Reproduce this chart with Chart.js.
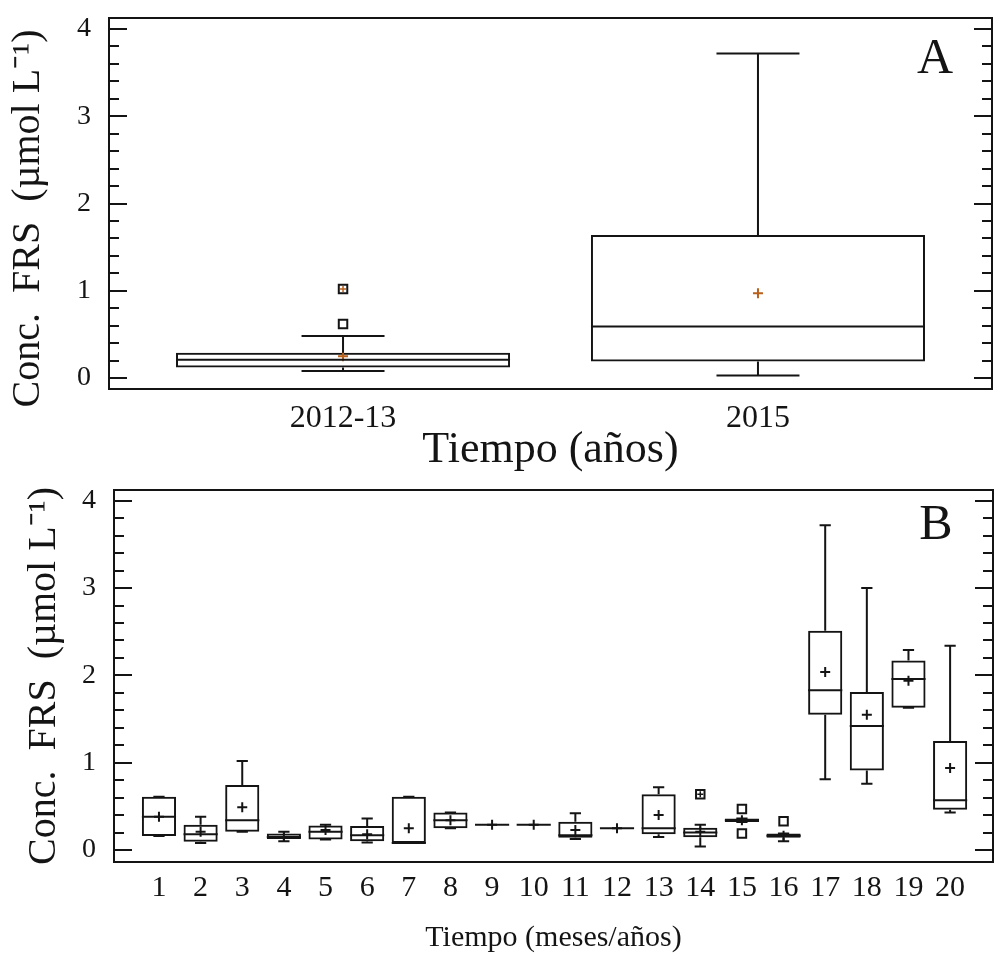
<!DOCTYPE html>
<html>
<head>
<meta charset="utf-8">
<script src="https://cdn.jsdelivr.net/npm/chart.js@4.4.1/dist/chart.umd.min.js"></script>
<style>
  html, body { margin: 0; padding: 0; background: #fff; }
  #wrap { position: relative; width: 994px; height: 956px; }
  .panel { position: absolute; left: 0; width: 994px; }
</style>
</head>
<body>
<div id="wrap">
  <div class="panel" style="top:0;height:472px"><canvas id="chartA" width="994" height="472"></canvas></div>
  <div class="panel" style="top:472px;height:484px"><canvas id="chartB" width="994" height="484"></canvas></div>
</div>
<script>
// --- panel A: por año ---
const yearLabels = ['2012-13', '2015'];
const yearLow    = [0.08, 0.03];
const yearQ1     = [0.12, 0.19];
const yearMedian = [0.21, 0.59];
const yearQ3     = [0.29, 1.64];
const yearHigh   = [0.48, 3.72];
const yearMean   = [0.25, 0.97];
const yearOutliers    = [[0.62], []];   // atípicos
const yearFarOutliers = [[1.02], []];   // atípicos lejanos

// --- panel B: por mes/año ---
const monthLabels = ['1','2','3','4','5','6','7','8','9','10','11','12','13','14','15','16','17','18','19','20'];
const monthLow    = [0.16, 0.08, 0.21, 0.10, 0.12, 0.085, 0.08, 0.25, 0.29, 0.29, 0.125, 0.25, 0.15, 0.04, 0.32, 0.10, 0.81, 0.76, 1.63, 0.43];
const monthQ1     = [0.16, 0.095, 0.21, 0.125, 0.12, 0.10, 0.08, 0.25, 0.29, 0.29, 0.14, 0.25, 0.18, 0.145, 0.32, 0.14, 1.55, 0.91, 1.63, 0.46];
const monthMedian = [0.38, 0.18, 0.34, 0.15, 0.21, 0.17, 0.08, 0.34, 0.29, 0.29, 0.17, 0.25, 0.25, 0.20, 0.34, 0.165, 1.83, 1.42, 1.96, 0.57];
const monthQ3     = [0.61, 0.29, 0.745, 0.19, 0.28, 0.275, 0.61, 0.43, 0.29, 0.29, 0.325, 0.25, 0.64, 0.255, 0.36, 0.19, 2.51, 1.81, 2.17, 1.25];
const monthHigh   = [0.61, 0.38, 1.02, 0.21, 0.29, 0.36, 0.61, 0.43, 0.29, 0.29, 0.42, 0.25, 0.72, 0.29, 0.36, 0.19, 3.72, 3.00, 2.29, 2.34];
const monthMean   = [0.38, 0.21, 0.49, 0.15, 0.23, 0.18, 0.25, 0.34, 0.29, 0.29, 0.23, 0.25, 0.40, 0.21, 0.34, 0.165, 2.04, 1.55, 1.94, 0.94];
const monthOutliers    = [[], [], [], [], [], [], [], [], [], [], [], [], [], [], [0.47, 0.19], [0.33], [], [], [], []];
const monthFarOutliers = [[], [], [], [], [], [], [], [], [], [], [], [], [], [0.64], [], [], [], [], [], []];

const yTicks = [0, 1, 2, 3, 4];
const yMinorStep = 0.2;

const ink = '#141414';
const serif = '"Liberation Serif", "Times New Roman", serif';

// bigotes, mediana y topes dibujados sobre las escalas del gráfico
const whiskerPlugin = {
  id: 'whiskers',
  afterDatasetsDraw(chart, args, opts) {
    const { ctx, scales: { x, y } } = chart;
    const boxes = chart.getDatasetMeta(0).data;
    const capHalf = x.getPixelForValue(1 + opts.cap / 2) - x.getPixelForValue(1);
    ctx.save();
    ctx.strokeStyle = ink;
    ctx.lineWidth = 2;
    boxes.forEach((bar, i) => {
      const cx = bar.x;
      const half = bar.width / 2;
      const pLow = y.getPixelForValue(opts.low[i]);
      const pQ1 = y.getPixelForValue(opts.q1[i]);
      const pQ3 = y.getPixelForValue(opts.q3[i]);
      const pHigh = y.getPixelForValue(opts.high[i]);
      const pMed = y.getPixelForValue(opts.median[i]);
      ctx.beginPath();
      ctx.moveTo(cx, pQ3); ctx.lineTo(cx, pHigh);
      ctx.moveTo(cx, pQ1); ctx.lineTo(cx, pLow);
      ctx.moveTo(cx - capHalf, pHigh); ctx.lineTo(cx + capHalf, pHigh);
      ctx.moveTo(cx - capHalf, pLow); ctx.lineTo(cx + capHalf, pLow);
      ctx.moveTo(cx - half, pMed); ctx.lineTo(cx + half, pMed);
      ctx.stroke();
    });
    ctx.restore();
  }
};

// marco con marcas hacia dentro a ambos lados + letra del panel
const framePlugin = {
  id: 'frame',
  afterDraw(chart, args, opts) {
    const { ctx, chartArea: a, scales: { y } } = chart;
    ctx.save();
    ctx.strokeStyle = ink;
    ctx.lineWidth = 2;
    ctx.strokeRect(a.left, a.top, a.width, a.height);
    const last = yTicks[yTicks.length - 1];
    ctx.beginPath();
    for (let k = 0; k * yMinorStep <= last + 1e-9; k++) {
      const v = k * yMinorStep;
      const py = Math.round(y.getPixelForValue(v));
      const len = yTicks.some(t => Math.abs(t - v) < 1e-9) ? 18 : 10;
      ctx.moveTo(a.left, py); ctx.lineTo(a.left + len, py);
      ctx.moveTo(a.right, py); ctx.lineTo(a.right - len, py);
    }
    ctx.stroke();
    ctx.fillStyle = ink;
    ctx.font = '50px ' + serif;
    ctx.textAlign = 'center';
    ctx.textBaseline = 'alphabetic';
    ctx.fillText(opts.letter, a.right - opts.dx, a.top + opts.dy);
    ctx.restore();
  }
};

function makeBoxChart(id, s) {
  const flat = (groups) => groups.flatMap((vals, i) => vals.map(v => ({ x: i + 1, y: v })));
  return new Chart(document.getElementById(id), {
    type: 'bar',
    data: {
      datasets: [
        {
          data: s.labels.map((_, i) => ({ x: i + 1, y: [s.q1[i], s.q3[i]] })),
          backgroundColor: 'rgba(255,255,255,0)',
          borderColor: ink,
          borderWidth: 2,
          borderSkipped: false,
          barPercentage: s.boxWidth,
          categoryPercentage: 1,
          order: 3
        },
        {
          type: 'scatter',
          data: s.mean.map((v, i) => ({ x: i + 1, y: v })),
          pointStyle: 'cross',
          pointRadius: s.meanSize,
          borderWidth: 2,
          borderColor: s.meanColor,
          order: 1
        },
        {
          type: 'scatter',
          data: flat(s.outliers.map((o, i) => o.concat(s.far[i]))),
          pointStyle: 'rect',
          pointRadius: 6,
          borderWidth: 2,
          borderColor: ink,
          backgroundColor: '#fff',
          order: 2
        },
        {
          type: 'scatter',
          data: flat(s.far),
          pointStyle: 'cross',
          pointRadius: 3,
          borderWidth: 1.5,
          borderColor: s.meanColor,
          order: 0
        }
      ]
    },
    options: {
      responsive: false,
      animation: false,
      devicePixelRatio: 1,
      layout: { autoPadding: false, padding: { top: 18, right: s.padRight, left: 0, bottom: 0 } },
      plugins: {
        legend: { display: false },
        tooltip: { enabled: false },
        whiskers: { low: s.low, q1: s.q1, q3: s.q3, high: s.high, median: s.median, cap: s.cap },
        frame: { letter: s.letter, dx: 57, dy: s.letterY }
      },
      scales: {
        x: {
          type: 'linear',
          offset: false,
          min: s.xMin,
          max: s.xMax,
          afterBuildTicks: (sc) => { sc.ticks = s.labels.map((_, i) => ({ value: i + 1 })); },
          afterFit: (sc) => { sc.height = s.xAxisHeight; sc.paddingLeft = 0; sc.paddingRight = 0; },
          grid: { display: false, offset: false },
          border: { display: false },
          ticks: {
            autoSkip: false,
            maxRotation: 0,
            color: ink,
            padding: s.xTickPad,
            font: { family: serif, size: s.xTickSize },
            callback: (v) => s.labels[v - 1]
          },
          title: {
            display: true,
            text: s.xTitle,
            color: ink,
            padding: 0,
            font: { family: serif, size: s.xTitleSize, lineHeight: s.xTitleLine }
          }
        },
        y: {
          min: s.yMin,
          max: s.yMax,
          afterBuildTicks: (sc) => { sc.ticks = yTicks.map(v => ({ value: v })); },
          afterFit: (sc) => { sc.width = s.yAxisWidth; sc.paddingTop = 0; sc.paddingBottom = 0; },
          grid: { display: false },
          border: { display: false },
          ticks: {
            color: ink,
            padding: 10,
            font: { family: serif, size: 28 }
          },
          title: {
            display: true,
            text: s.yTitle,
            color: ink,
            padding: { top: s.yTitlePad, bottom: 0 },
            font: { family: serif, size: 40 }
          }
        }
      }
    },
    plugins: [whiskerPlugin, framePlugin]
  });
}

makeBoxChart('chartA', {
  labels: yearLabels, low: yearLow, q1: yearQ1, median: yearMedian, q3: yearQ3, high: yearHigh,
  mean: yearMean, outliers: yearOutliers, far: yearFarOutliers,
  meanColor: '#b8601c', meanSize: 5, boxWidth: 0.805, cap: 0.2,
  xMin: 0.436, xMax: 2.564, yMin: -0.126, yMax: 4.126,
  yAxisWidth: 109, xAxisHeight: 83, padRight: 2,
  xTickSize: 32, xTickPad: 2, xTitle: 'Tiempo (años)', xTitleSize: 44, xTitleLine: 1,
  yTitle: 'Conc.  FRS  (µmol L⁻¹)   ', yTitlePad: 4, letter: 'A', letterY: 55
});

makeBoxChart('chartB', {
  labels: monthLabels, low: monthLow, q1: monthQ1, median: monthMedian, q3: monthQ3, high: monthHigh,
  mean: monthMean, outliers: monthOutliers, far: monthFarOutliers,
  meanColor: ink, meanSize: 5, boxWidth: 0.82, cap: 0.27,
  xMin: -0.08, xMax: 21.03, yMin: -0.137, yMax: 4.123,
  yAxisWidth: 114, xAxisHeight: 94, padRight: 1,
  xTickSize: 30, xTickPad: 0, xTitle: 'Tiempo (meses/años)', xTitleSize: 30, xTitleLine: 1.2,
  yTitle: 'Conc.  FRS  (µmol L⁻¹)', yTitlePad: 20, letter: 'B', letterY: 49
});
</script>
</body>
</html>
